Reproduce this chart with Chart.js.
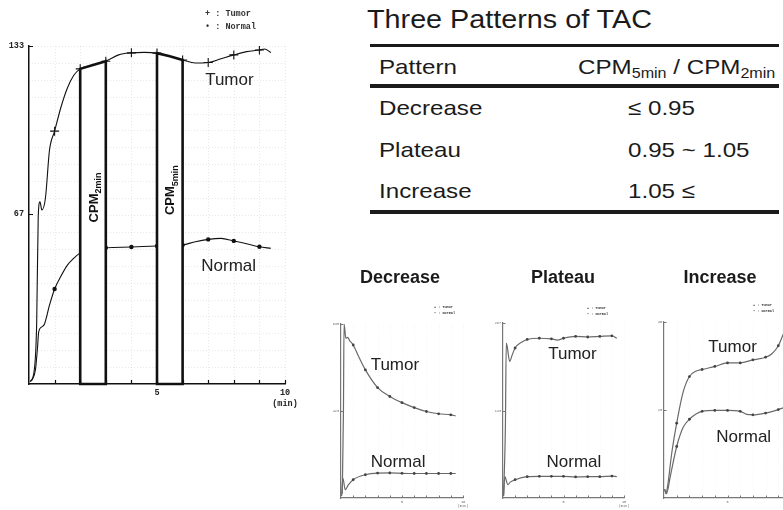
<!DOCTYPE html>
<html>
<head>
<meta charset="utf-8">
<title>Three Patterns of TAC</title>
<script src="https://cdn.jsdelivr.net/npm/chart.js@4.4.1/dist/chart.umd.min.js"></script>
<style>
  html, body { margin:0; padding:0; width:783px; height:510px; overflow:hidden; background:#fff; }
  body { position:relative; font-family:"Liberation Sans", Arial, sans-serif; color:#1b1b1b; }
  canvas { position:absolute; }
  .txt { position:absolute; white-space:nowrap; line-height:1; transform-origin:0 0; transform:scaleX(1.15); }
  .txt sub { font-size:14px; vertical-align:baseline; position:relative; top:4px; }
  .rule { position:absolute; left:370px; width:409px; background:#1b1b1b; }
  .ptitle { position:absolute; font-weight:bold; font-size:18px; line-height:1; white-space:nowrap; transform:translateX(-50%); }
</style>
</head>
<body>
<canvas id="tacMain" width="330" height="420" style="left:0;top:0"></canvas>
<canvas id="tacDecrease" width="158" height="220" style="left:320px;top:290px"></canvas>
<canvas id="tacPlateau" width="155" height="220" style="left:482px;top:290px"></canvas>
<canvas id="tacIncrease" width="170" height="220" style="left:643px;top:290px"></canvas>
<div id="tbl"></div>
<script>
// ---- Time–activity curves (minutes, counts per minute) ----
const mainTumorMin = [0.05, 0.2, 0.3, 0.36, 0.43, 0.5, 0.64, 0.8, 1, 1.25, 1.5, 1.75, 2, 2.5, 3, 3.5, 4, 4.5, 5, 5.5, 6, 6.5, 7, 7.5, 8, 8.5, 9, 9.2, 9.45];
const mainTumorCpm = [1, 5, 24, 65.7, 71.7, 68.5, 73, 92, 99.5, 109, 116.5, 121.5, 124, 125.5, 127, 129.5, 130.3, 130.5, 130.2, 129, 127.5, 126.3, 126.5, 128, 129.5, 130.8, 131.4, 131.8, 130.4];
const mainNormalMin = [0.05, 0.12, 0.25, 0.33, 0.38, 0.5, 0.6, 0.8, 1, 1.25, 1.5, 1.75, 1.95, 2.5, 3, 4, 5, 6, 6.5, 7, 7.5, 8, 8.5, 9, 9.45];
const mainNormalCpm = [1, 1.6, 5.5, 14, 20.6, 22.5, 23.5, 31, 37.4, 42.5, 46.8, 49.5, 51.2, 53, 53.6, 53.9, 54.3, 54.7, 56, 56.9, 57.3, 56.3, 55.2, 54.0, 53.4];
const mainYTicks = [67, 133];

const decTumorMin = [0.1, 0.2, 0.25, 0.4, 0.55, 0.7, 1, 1.5, 2, 3, 4, 5, 6, 7, 8, 9, 9.4];
const decTumorCpm = [20, 420, 845, 776, 780, 765, 743, 680, 622, 536, 493, 463, 439, 420, 409, 404, 399];
const decNormalMin = [0.05, 0.15, 0.35, 0.6, 1, 2, 3, 4, 5, 6, 7, 8, 9, 9.4];
const decNormalCpm = [10, 97, 40, 64, 89, 113, 121, 122, 120, 119, 119, 119, 119, 119];
const decYTicks = [423, 845];

const plaTumorMin = [0.05, 0.2, 0.27, 0.35, 0.55, 0.75, 1, 1.5, 2, 3, 4, 4.5, 5, 6, 7, 8, 9, 9.4];
const plaTumorCpm = [5, 120, 254, 248, 224, 234, 246, 255, 260, 262, 261, 259, 262, 265, 264, 265, 266, 262];
const plaNormalMin = [0.05, 0.15, 0.4, 0.6, 1, 2, 3, 4, 5, 6, 7, 8, 9, 9.4];
const plaNormalCpm = [3, 35, 22, 26, 30, 35, 35.5, 35.5, 35.5, 34.5, 35, 35, 36, 35];
const plaYTicks = [143, 287];

const incTumorMin = [0.05, 0.15, 0.3, 0.6, 1, 1.5, 2, 2.5, 3, 4, 5, 6, 7, 8, 8.5, 9, 9.5];
const incTumorCpm = [2, 1, 3, 10, 17, 24, 27.6, 28.8, 29.2, 29.9, 30.7, 30.7, 31.4, 32, 32.8, 34.6, 38];
const incNormalMin = [0.05, 0.2, 0.5, 1, 1.5, 2, 3, 4, 5, 6, 6.5, 7, 8, 9, 9.5];
const incNormalCpm = [2, 1, 5, 11.7, 16, 17.9, 19.7, 19.9, 19.9, 19.7, 19, 18.9, 19.3, 20.1, 20.6];
const incYTicks = [20, 40];

// ---- Classification table ----
const tableTitle = 'Three Patterns of TAC';
const tableHeader = ['Pattern', 'CPM<sub>5min</sub> / CPM<sub>2min</sub>'];
const patternNames = ['Decrease', 'Plateau', 'Increase'];
const ratioRanges = ['\u2264 0.95', '0.95 ~ 1.05', '1.05 \u2264'];

const SANS = '"Liberation Sans", Arial, sans-serif';
const MONO = '"Liberation Mono", "DejaVu Sans Mono", monospace';
Chart.defaults.animation = false;
Chart.defaults.font.family = SANS;

function pts(mins, vals) { return mins.map((m, i) => ({ x: m, y: vals[i] })); }
function onMinute(c) {
  const v = c.raw ? c.raw.x : NaN;
  return v >= 1 && Math.abs(v - Math.round(v)) < 1e-9;
}

// grid, inward tick marks, measuring windows, curve names and the little key
function decorPlugin(spec) {
  return {
    id: 'tacDecor',
    beforeDatasetsDraw(chart) {
      const { ctx, chartArea: a, scales: { x, y } } = chart;
      const g = spec.grid;
      ctx.save();
      ctx.strokeStyle = g.color; ctx.lineWidth = 1; ctx.setLineDash(g.dash);
      ctx.beginPath();
      for (let v = g.dx; v <= x.max + 1e-9; v += g.dx) {
        const p = Math.round(x.getPixelForValue(v)) + 0.5;
        ctx.moveTo(p, a.top); ctx.lineTo(p, a.bottom);
      }
      for (let v = g.dy; v <= y.max + 1e-9; v += g.dy) {
        const p = Math.round(y.getPixelForValue(v)) + 0.5;
        ctx.moveTo(a.left, p); ctx.lineTo(a.right, p);
      }
      ctx.stroke();
      ctx.restore();
    },
    afterDatasetsDraw(chart) {
      const { ctx, chartArea: a, scales: { x, y } } = chart;
      ctx.save();
      (spec.windows || []).forEach(w => {
        const top = chart.data.datasets[0].data.filter(p => p.x >= w.from && p.x <= w.to);
        ctx.beginPath();
        ctx.moveTo(x.getPixelForValue(w.from), y.getPixelForValue(0));
        top.forEach(p => ctx.lineTo(x.getPixelForValue(p.x), y.getPixelForValue(p.y)));
        ctx.lineTo(x.getPixelForValue(w.to), y.getPixelForValue(0));
        ctx.closePath();
        ctx.fillStyle = '#fff'; ctx.fill();
        ctx.lineWidth = 2.6; ctx.strokeStyle = '#111'; ctx.lineJoin = 'miter'; ctx.stroke();
        const cx = x.getPixelForValue((w.from + w.to) / 2), cy = y.getPixelForValue(w.labelAt);
        ctx.save();
        ctx.translate(cx, cy); ctx.rotate(-Math.PI / 2);
        ctx.fillStyle = '#111'; ctx.textAlign = 'left'; ctx.textBaseline = 'alphabetic';
        ctx.font = 'bold 13px ' + SANS;
        const w1 = ctx.measureText('CPM').width;
        ctx.font = 'bold 9px ' + SANS;
        const w2 = ctx.measureText(w.sub).width;
        const s = -(w1 + w2) / 2;
        ctx.font = 'bold 13px ' + SANS; ctx.fillText('CPM', s, 4.6);
        ctx.font = 'bold 9px ' + SANS; ctx.fillText(w.sub, s + w1, 8.2);
        ctx.restore();
      });
      // inward tick marks
      ctx.strokeStyle = spec.axisColor; ctx.lineWidth = spec.tickWidth;
      ctx.beginPath();
      x.ticks.forEach(t => {
        if (t.value <= x.min) return;
        const p = Math.round(x.getPixelForValue(t.value)) + 0.5;
        ctx.moveTo(p, a.bottom); ctx.lineTo(p, a.bottom - spec.tickLen);
      });
      y.ticks.forEach(t => {
        const p = Math.round(y.getPixelForValue(t.value)) + 0.5;
        ctx.moveTo(a.left, p); ctx.lineTo(a.left + spec.tickLen, p);
      });
      ctx.stroke();
      // curve names
      ctx.fillStyle = '#222'; ctx.textAlign = 'left'; ctx.textBaseline = 'middle';
      ctx.font = spec.labelFont + 'px ' + SANS;
      spec.labels.forEach(l => ctx.fillText(l.text, x.getPixelForValue(l.x), y.getPixelForValue(l.y)));
      // key
      const k = spec.key;
      ctx.font = 'bold ' + k.font + 'px ' + MONO;
      ctx.fillStyle = '#333';
      ctx.fillText('+ : Tumor', a.right + k.dx, a.top + k.dy);
      ctx.fillText('\u2022 : Normal', a.right + k.dx, a.top + k.dy + k.gap);
      ctx.restore();
    }
  };
}

function tacChart(id, spec) {
  const tickFont = { family: MONO, size: spec.tickFont, lineHeight: 1.25, weight: spec.tickWeight };
  return new Chart(document.getElementById(id), {
    type: 'line',
    data: {
      datasets: [
        Object.assign({ label: 'Tumor', data: pts(spec.tumorMin, spec.tumorCpm) }, spec.tumorStyle),
        Object.assign({ label: 'Normal', data: pts(spec.normalMin, spec.normalCpm) }, spec.normalStyle)
      ]
    },
    options: {
      responsive: false,
      animation: false,
      events: [],
      layout: { padding: spec.padding },
      plugins: { legend: { display: false }, tooltip: { enabled: false } },
      elements: { line: { cubicInterpolationMode: 'monotone', fill: false } },
      scales: {
        x: {
          type: 'linear', min: 0, max: 10,
          grid: { display: false, drawTicks: false },
          border: { color: spec.axisColor, width: spec.axisWidth },
          ticks: {
            stepSize: 1, autoSkip: false, maxRotation: 0, padding: spec.xPad,
            color: spec.tickColor, font: tickFont,
            callback: v => v === 5 ? '5' : v === 10 ? ['10', '(min)'] : ''
          },
          afterFit: s => { s.height = spec.xHeight; }
        },
        y: {
          type: 'linear', min: 0, max: spec.yTicks[spec.yTicks.length - 1],
          grid: { display: false, drawTicks: false },
          border: { color: spec.axisColor, width: spec.axisWidth },
          ticks: { padding: spec.yPad, color: spec.tickColor, font: tickFont, callback: v => String(v) },
          afterBuildTicks: s => { s.ticks = spec.yTicks.map(v => ({ value: v })); },
          afterFit: s => { s.width = spec.yWidth; }
        }
      }
    },
    plugins: [decorPlugin(spec)]
  });
}

const smallTumor = { borderColor: '#6a6a6a', borderWidth: 1.2, pointStyle: 'circle',
  pointRadius: c => onMinute(c) ? 1.4 : 0, pointBackgroundColor: '#444', pointBorderWidth: 0 };
const smallNormal = Object.assign({}, smallTumor);
const smallBase = {
  tumorStyle: smallTumor, normalStyle: smallNormal,
  axisColor: '#777', axisWidth: 1.2, tickLen: 2.5, tickWidth: 1,
  tickColor: '#666', tickFont: 3.5, tickWeight: 'normal', xPad: 1.5, yPad: 2,
  yWidth: 21, xHeight: 12, labelFont: 17,
  grid: { dx: 1, dy: 1e9, color: 'rgba(0,0,0,0.04)', dash: [1, 2] }
};

tacChart('tacMain', {
  tumorMin: mainTumorMin, tumorCpm: mainTumorCpm,
  normalMin: mainNormalMin, normalCpm: mainNormalCpm, yTicks: mainYTicks,
  tumorStyle: { borderColor: '#111', borderWidth: 1.1, pointStyle: 'cross',
    pointRadius: c => onMinute(c) ? 4.5 : 0, pointBorderColor: '#111', pointBorderWidth: 1.1 },
  normalStyle: { borderColor: '#111', borderWidth: 1.1, pointStyle: 'circle',
    pointRadius: c => onMinute(c) ? 2.2 : 0, pointBackgroundColor: '#111', pointBorderWidth: 0 },
  padding: { left: 0, top: 46, right: 45, bottom: 0 },
  yWidth: 29, xHeight: 36,
  axisColor: '#111', axisWidth: 1.5, tickLen: 4, tickWidth: 1.2,
  tickColor: '#222', tickFont: 8.5, tickWeight: 'bold', xPad: 4, yPad: 5,
  grid: { dx: 1, dy: 133 / 20, color: 'rgba(0,0,0,0.09)', dash: [1, 2] },
  labelFont: 17,
  labels: [{ text: 'Tumor', x: 6.88, y: 119.6 }, { text: 'Normal', x: 6.73, y: 46.4 }],
  key: { dx: -80, dy: -32, gap: 13, font: 8.5 },
  windows: [{ from: 2, to: 3, sub: '2min', labelAt: 73.4 }, { from: 5, to: 6, sub: '5min', labelAt: 76.3 }]
});

tacChart('tacDecrease', Object.assign({}, smallBase, {
  tumorMin: decTumorMin, tumorCpm: decTumorCpm, normalMin: decNormalMin, normalCpm: decNormalCpm,
  yTicks: decYTicks, padding: { left: 0, top: 34, right: 15, bottom: 0 },
  labels: [{ text: 'Tumor', x: 2.43, y: 646 }, { text: 'Normal', x: 2.43, y: 174 }],
  key: { dx: -29, dy: -17, gap: 6, font: 3.5 }
}));
tacChart('tacPlateau', Object.assign({}, smallBase, {
  tumorMin: plaTumorMin, tumorCpm: plaTumorCpm, normalMin: plaNormalMin, normalCpm: plaNormalCpm,
  yTicks: plaYTicks, padding: { left: 0, top: 33, right: 13, bottom: 0 },
  labels: [{ text: 'Tumor', x: 3.74, y: 235 }, { text: 'Normal', x: 3.6, y: 58 }],
  key: { dx: -37, dy: -15, gap: 6, font: 3.5 }
}));
tacChart('tacIncrease', Object.assign({}, smallBase, {
  tumorMin: incTumorMin, tumorCpm: incTumorCpm, normalMin: incNormalMin, normalCpm: incNormalCpm,
  yTicks: incYTicks, padding: { left: 0, top: 32, right: 22, bottom: 0 },
  labels: [{ text: 'Tumor', x: 3.49, y: 34.3 }, { text: 'Normal', x: 4.12, y: 13.8 }],
  key: { dx: -38, dy: -17, gap: 6, font: 3.5 }
}));

// ---- table and panel titles ----
const tbl = document.getElementById('tbl');
function put(html, left, baseline, size, cls) {
  const d = document.createElement('div');
  d.className = cls || 'txt';
  d.innerHTML = html;
  d.style.left = left + 'px';
  d.style.fontSize = size + 'px';
  d.style.top = (baseline - 0.8465 * size) + 'px';
  tbl.appendChild(d);
}
function rule(top, h) {
  const r = document.createElement('div');
  r.className = 'rule'; r.style.top = top + 'px'; r.style.height = h + 'px';
  tbl.appendChild(r);
}
put(tableTitle, 367, 28, 25);
rule(44, 3);
put(tableHeader[0], 379, 73.3, 21);
put(tableHeader[1], 578, 73.3, 21);
rule(84, 4);
const rowBase = [115, 156.7, 197.7];
patternNames.forEach((n, i) => {
  put(n, 379, rowBase[i], 21);
  put(ratioRanges[i], 628, rowBase[i], 21);
});
rule(210, 4);
const titleCenters = [400, 563, 720];
patternNames.forEach((n, i) => put(n, titleCenters[i], 283.5, 18, 'ptitle'));
</script>
</body>
</html>
